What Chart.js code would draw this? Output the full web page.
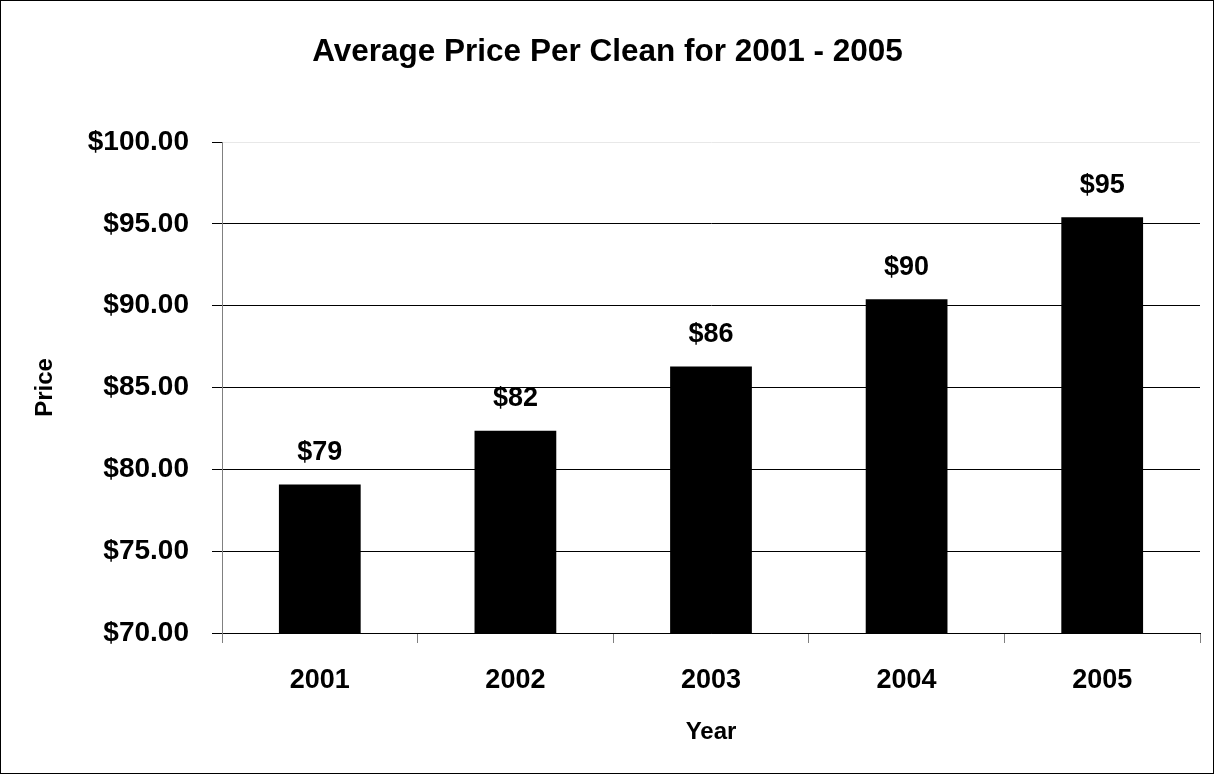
<!DOCTYPE html>
<html>
<head>
<meta charset="utf-8">
<title>Average Price Per Clean</title>
<script src="https://cdn.jsdelivr.net/npm/chart.js@4.4.1/dist/chart.umd.min.js"></script>
<style>
  html, body { margin: 0; padding: 0; background: #fff; }
  canvas { display: block; }
</style>
</head>
<body>
<canvas id="priceChart" width="1215" height="775"></canvas>
<script>
const years = ['2001', '2002', '2003', '2004', '2005'];
const avgPrice = [79.08, 82.36, 86.29, 90.39, 95.40];
const priceTicks = [70, 75, 80, 85, 90, 95, 100];
const chartTitle = 'Average Price Per Clean for 2001 - 2005';

const FONT = '"Liberation Sans", Arial, sans-serif';

// white page, thin black frame, and the title centred on the whole page
const pageFrame = {
  id: 'pageFrame',
  beforeDraw(chart) {
    const { ctx, width, height } = chart;
    ctx.save();
    ctx.fillStyle = '#fff';
    ctx.fillRect(0, 0, width, height);
    ctx.strokeStyle = '#000';
    ctx.lineWidth = 1;
    ctx.strokeRect(0.5, 0.5, width - 2, height - 2);
    ctx.font = 'bold 31.5px ' + FONT;
    ctx.fillStyle = '#000';
    ctx.textAlign = 'center';
    ctx.textBaseline = 'middle';
    ctx.fillText(chartTitle, width / 2, 52);
    ctx.restore();
  }
};

// "$79" style labels above each bar
const barValueLabels = {
  id: 'barValueLabels',
  afterDatasetsDraw(chart) {
    const { ctx } = chart;
    const meta = chart.getDatasetMeta(0);
    ctx.save();
    ctx.font = 'bold 27px ' + FONT;
    ctx.fillStyle = '#000';
    ctx.textAlign = 'center';
    ctx.textBaseline = 'middle';
    meta.data.forEach((bar, i) => {
      ctx.fillText('$' + Math.round(avgPrice[i]), bar.x, bar.y - 32);
    });
    ctx.restore();
  }
};

new Chart(document.getElementById('priceChart'), {
  type: 'bar',
  data: {
    labels: years,
    datasets: [{
      label: 'Price',
      data: avgPrice,
      backgroundColor: '#000',
      borderWidth: 0,
      barPercentage: 0.418,
      categoryPercentage: 1.0
    }]
  },
  options: {
    responsive: false,
    devicePixelRatio: 1,
    animation: false,
    layout: { padding: { top: 142, right: 15, bottom: 0, left: 0 } },
    plugins: {
      legend: { display: false },
      tooltip: { enabled: false },
      title: { display: false }
    },
    scales: {
      x: {
        grid: {
          drawOnChartArea: false,
          drawTicks: true,
          tickLength: 10,
          color: '#808080',
          offset: true
        },
        border: { display: true, color: '#000', width: 1 },
        ticks: {
          color: '#000',
          padding: 21,
          font: { family: FONT, size: 27, weight: 'bold' }
        },
        title: {
          display: true,
          text: 'Year',
          color: '#000',
          font: { family: FONT, size: 24, weight: 'bold' },
          padding: { top: 0, bottom: 28 }
        },
        afterFit(scale) { scale.height = 142; }
      },
      y: {
        min: priceTicks[0],
        max: priceTicks[priceTicks.length - 1],
        afterBuildTicks(scale) {
          scale.ticks = priceTicks.map(v => ({ value: v }));
        },
        grid: {
          color: (c) => (c.tick && c.tick.value === 100 ? '#e8e8e8' : '#000'),
          tickColor: '#000',
          tickLength: 10,
          lineWidth: 1
        },
        border: { display: true, color: '#808080', width: 1 },
        ticks: {
          color: '#000',
          padding: 23,
          font: { family: FONT, size: 28, weight: 'bold' },
          callback: (v) => '$' + Number(v).toFixed(2)
        },
        title: {
          display: true,
          text: 'Price',
          color: '#000',
          font: { family: FONT, size: 24, weight: 'bold' },
          padding: { top: 31, bottom: 0 }
        },
        afterFit(scale) { scale.width = 222; }
      }
    }
  },
  plugins: [pageFrame, barValueLabels]
});
</script>
</body>
</html>
